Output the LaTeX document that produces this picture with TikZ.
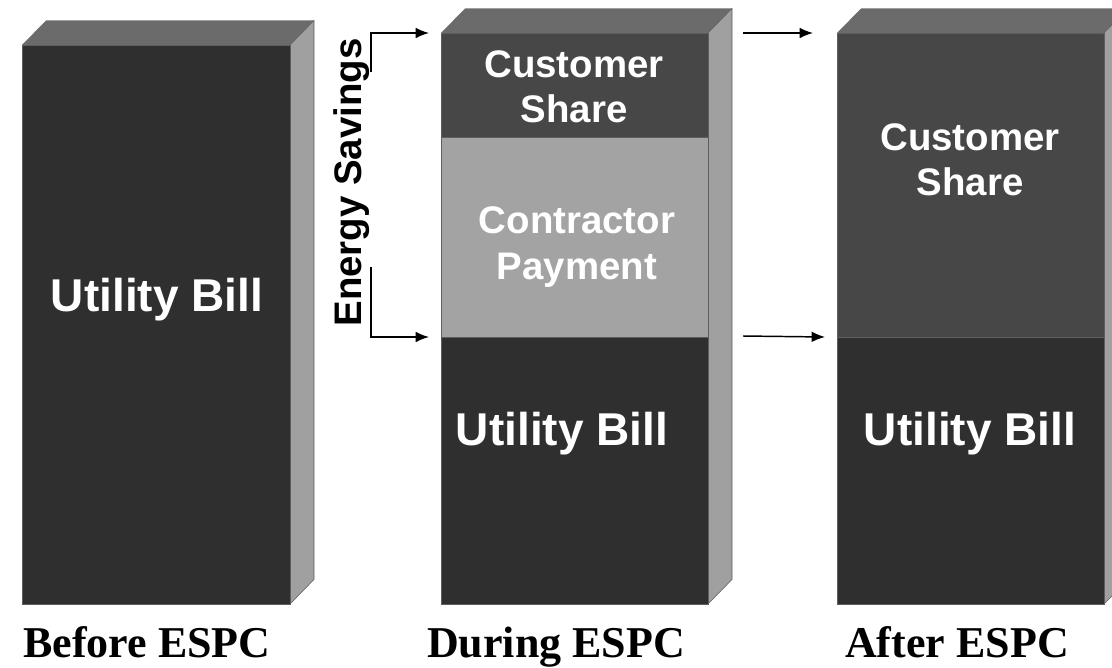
\documentclass[tikz,border=0pt]{standalone}
\usepackage{fontspec}
\setmainfont{Liberation Serif}
\setsansfont{Liberation Sans}
\usetikzlibrary{arrows.meta,fit}
\definecolor{frontdark}{HTML}{2F2F2F}
\definecolor{custgray}{HTML}{474747}
\definecolor{contgray}{HTML}{A3A3A3}
\definecolor{topgray}{HTML}{6B6B6B}
\definecolor{sidegray}{HTML}{A0A0A0}
\definecolor{edgegray}{HTML}{5E5E5E}
\begin{document}
\begin{tikzpicture}[x=0.75pt,y=-0.75pt,
 seg/.style={inner sep=0pt, outer sep=0pt, draw=edgegray, line width=0.6pt},
 topface/.style={fill=topgray},
 sideface/.style={fill=sidegray, draw=edgegray, line width=0.4pt},
 intext/.style={text=white, font=\sffamily\bfseries\fontsize{28.8}{34}\selectfont, align=center, inner sep=0pt},
 billtext/.style={text=white, font=\sffamily\bfseries\fontsize{34.5}{40}\selectfont, inner sep=0pt},
 captext/.style={font=\rmfamily\bfseries\fontsize{33}{38}\selectfont, inner sep=0pt, anchor=base},
 flow/.style={line width=1.1pt, -{Latex[length=10pt,width=8pt]}}
]
\useasboundingbox (0,0) rectangle (1112,667);
\clip (0,0) rectangle (1112,667);
% Box 1 (Before)
\fill[topface] (22,45) -- (46,20.5) -- (314,20.5) -- (290,45) -- cycle;
\filldraw[sideface] (290,45) -- (314,20.5) -- (314,579.5) -- (290,604) -- cycle;
\node[seg, fill=frontdark, fit={(22,45)(290,604)}] (ub1) {};
% Box 2 (During)
\fill[topface] (441,33) -- (465,8.5) -- (732,8.5) -- (708,33) -- cycle;
\filldraw[sideface] (708,33) -- (732,8.5) -- (732,579.5) -- (708,604) -- cycle;
\node[seg, fill=custgray, fit={(441,33)(708,137)}] (cs2) {};
\node[seg, fill=contgray, fit={(441,137)(708,337)}] (cp2) {};
\node[seg, fill=frontdark, fit={(441,337)(708,604)}] (ub2) {};
% Box 3 (After)
\fill[topface] (837,33) -- (861,8.5) -- (1128,8.5) -- (1104,33) -- cycle;
\filldraw[sideface] (1104,33) -- (1128,8.5) -- (1128,579.5) -- (1104,604) -- cycle;
\node[seg, fill=custgray, fit={(837,33)(1104,337)}] (cs3) {};
\node[seg, fill=frontdark, fit={(837,337)(1104,604)}] (ub3) {};
% Texts in boxes
\node[billtext] (t1) at (157,300) {Utility Bill};
\node[intext] (t2cs) at (574,87) {Customer\\Share};
\node[intext] (t2cp) at (577,247) {Contractor\\Payment};
\node[billtext] (t2ub) at (562,434) {Utility Bill};
\node[intext] (t3cs) at (970,160) {Customer\\Share};
\node[billtext] (t3ub) at (970,434) {Utility Bill};
% Energy savings bracket
\node[rotate=90, anchor=base, inner sep=0pt, font=\sffamily\bfseries\fontsize{28.8}{34}\selectfont] (es) at (361,182.5) {Energy Savings};
\coordinate (bt) at (371,72);
\coordinate (bb) at (371,267);
\draw[flow] (bt) |- ([xshift=-9pt]cs2.north west);
\draw[flow] (bb) |- ([xshift=-9pt]cp2.south west);
% Arrows between During and After
\coordinate (a1) at (743,33);
\coordinate (a2) at (743,336);
\draw[flow] (a1) -- ([xshift=-18pt]cs3.north west);
\draw[flow] (a2) -- ([xshift=-9pt]ub3.north west);
% Captions
\node[captext] (c1) at (147,657) {Before ESPC};
\node[captext] (c2) at (556,657) {During ESPC};
\node[captext] (c3) at (957,657) {After ESPC};
\end{tikzpicture}
\end{document}
